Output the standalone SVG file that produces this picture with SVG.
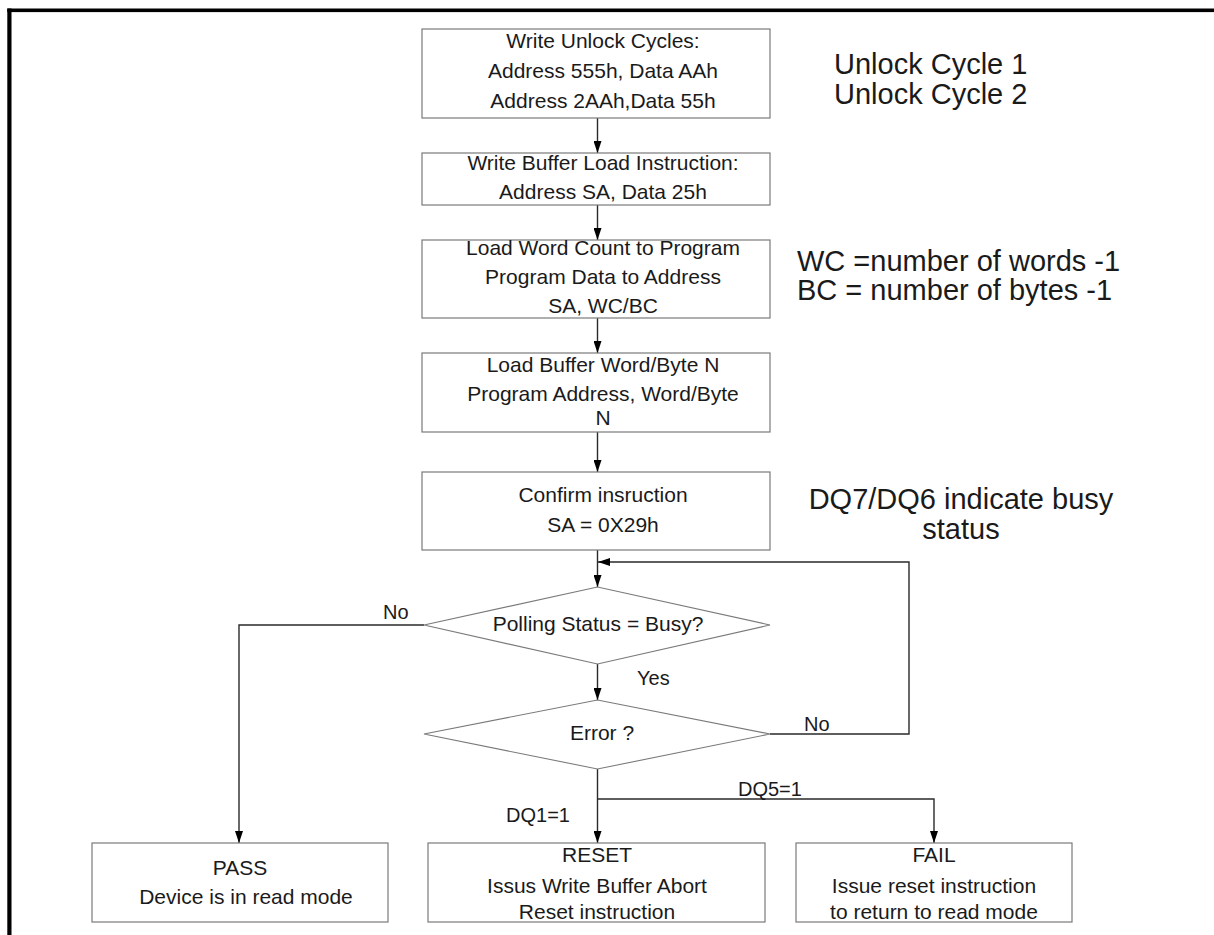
<svg xmlns="http://www.w3.org/2000/svg" width="1214" height="935" viewBox="0 0 1214 935">
  <style>
    text { font-family: "Liberation Sans", Arial, sans-serif; fill: #1a1a1a; }
    .box { fill: #ffffff; stroke: #7a7a7a; stroke-width: 1.2; }
    .dia { fill: #ffffff; stroke: #7a7a7a; stroke-width: 1.1; }
    .t { font-size: 21px; text-anchor: middle; }
    .lbl { font-size: 20px; }
    .note { font-size: 29px; }
    .wire { fill: none; stroke: #2a2a2a; stroke-width: 1.4; }
  </style>
  <defs>
    <marker id="arrow" viewBox="0 0 12 8" refX="12" refY="4" markerWidth="12" markerHeight="8" markerUnits="userSpaceOnUse" orient="auto">
      <path d="M0,0 L12,4 L0,8 z" fill="#000000"/>
    </marker>
  </defs>

  <rect width="1214" height="935" fill="#ffffff"/>

  <!-- page frame -->
  <rect x="7.3" y="8.5" width="1206.7" height="3.6" fill="#000000"/>
  <rect x="7.3" y="8.5" width="4.2" height="926.5" fill="#000000"/>

  <!-- connectors -->
  <g id="connectors">
    <line class="wire" x1="597.5" y1="118" x2="597.5" y2="153" marker-end="url(#arrow)"/>
    <line class="wire" x1="597.5" y1="205" x2="597.5" y2="240" marker-end="url(#arrow)"/>
    <line class="wire" x1="597.5" y1="318" x2="597.5" y2="353" marker-end="url(#arrow)"/>
    <line class="wire" x1="597.5" y1="432" x2="597.5" y2="472" marker-end="url(#arrow)"/>
    <line class="wire" x1="597.5" y1="550" x2="597.5" y2="587" marker-end="url(#arrow)"/>
    <line class="wire" x1="597.5" y1="664" x2="597.5" y2="700" marker-end="url(#arrow)"/>
    <!-- busy -> pass -->
    <polyline class="wire" points="424,625 239,625 239,843" marker-end="url(#arrow)"/>
    <!-- no error: loop back to polling -->
    <polyline class="wire" points="770,734 909,734 909,562 598,562" marker-end="url(#arrow)"/>
    <!-- error -> reset -->
    <line class="wire" x1="597.5" y1="769" x2="597.5" y2="843" marker-end="url(#arrow)"/>
    <!-- error -> fail -->
    <polyline class="wire" points="597.5,799 934,799 934,843" marker-end="url(#arrow)"/>
  </g>

  <!-- connector labels -->
  <text class="lbl" x="383" y="619">No</text>
  <text class="lbl" x="637" y="685">Yes</text>
  <text class="lbl" x="804" y="731">No</text>
  <text class="lbl" x="738" y="796">DQ5=1</text>
  <text class="lbl" x="538" y="822" text-anchor="middle">DQ1=1</text>

  <g id="unlock">
    <rect class="box" x="422" y="29" width="348" height="89"/>
    <text class="t" x="603" y="48">Write Unlock Cycles:</text>
    <text class="t" x="603" y="78">Address 555h, Data AAh</text>
    <text class="t" x="603" y="108">Address 2AAh,Data 55h</text>
  </g>

  <g id="buffer-load">
    <rect class="box" x="422" y="153" width="348" height="52"/>
    <text class="t" x="603" y="169.5">Write Buffer Load Instruction:</text>
    <text class="t" x="603" y="198.5">Address SA, Data 25h</text>
  </g>

  <g id="word-count">
    <rect class="box" x="422" y="240" width="348" height="78"/>
    <text class="t" x="603" y="255">Load Word Count to Program</text>
    <text class="t" x="603" y="284">Program Data to Address</text>
    <text class="t" x="603" y="312.5">SA, WC/BC</text>
  </g>

  <g id="load-word">
    <rect class="box" x="422" y="353" width="348" height="79"/>
    <text class="t" x="603" y="371.5">Load Buffer Word/Byte N</text>
    <text class="t" x="603" y="400.5">Program Address, Word/Byte</text>
    <text class="t" x="603" y="425">N</text>
  </g>

  <g id="confirm">
    <rect class="box" x="422" y="472" width="348" height="78"/>
    <text class="t" x="603" y="501.5">Confirm insruction</text>
    <text class="t" x="603" y="531.5">SA = 0X29h</text>
  </g>

  <g id="polling">
    <polygon class="dia" points="424,625 597.5,587 770,625 597.5,664"/>
    <text class="t" x="598" y="631">Polling Status = Busy?</text>
  </g>

  <g id="error">
    <polygon class="dia" points="424,734 597.5,700 770,734 597.5,769"/>
    <text class="t" x="602" y="740">Error ?</text>
  </g>

  <g id="pass">
    <rect class="box" x="92" y="843" width="296" height="79"/>
    <text class="t" x="240" y="875">PASS</text>
    <text class="t" x="246" y="904">Device is in read mode</text>
  </g>

  <g id="reset">
    <rect class="box" x="428" y="843" width="337" height="79"/>
    <text class="t" x="597" y="861.5">RESET</text>
    <text class="t" x="597" y="893">Issus Write Buffer Abort</text>
    <text class="t" x="597" y="919">Reset instruction</text>
  </g>

  <g id="fail">
    <rect class="box" x="796" y="843" width="276" height="79"/>
    <text class="t" x="934" y="861.5">FAIL</text>
    <text class="t" x="934" y="893">Issue reset instruction</text>
    <text class="t" x="934" y="919">to return to read mode</text>
  </g>

  <!-- side notes -->
  <text class="note" x="834" y="74">Unlock Cycle 1</text>
  <text class="note" x="834" y="104">Unlock Cycle 2</text>
  <text class="note" x="797" y="271">WC =number of words -1</text>
  <text class="note" x="797" y="300">BC = number of bytes -1</text>
  <text class="note" x="961" y="509" text-anchor="middle">DQ7/DQ6 indicate busy</text>
  <text class="note" x="961" y="539" text-anchor="middle">status</text>
</svg>
